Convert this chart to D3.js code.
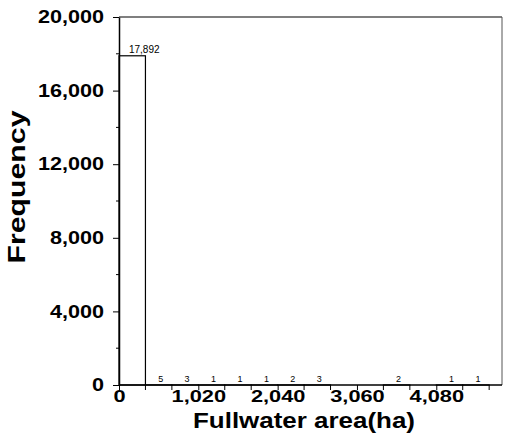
<!DOCTYPE html>
<html><head><meta charset="utf-8">
<script src="https://cdn.jsdelivr.net/npm/d3@7"></script>
<style>body{margin:0;background:#fff}svg{display:block}</style>
</head><body><svg id="c" width="505" height="448"></svg>
<script>
const binStarts = [0,340,680,1020,1360,1700,2040,2380,2720,3060,3400,3740,4080,4420];
const binWidth = 340;
const counts = [17892,5,3,1,1,1,2,3,0,0,2,0,1,1];
const xTicks = [0,1020,2040,3060,4080];
const yTicks = [0,4000,8000,12000,16000,20000];

const svg = d3.select("#c");
const x = d3.scaleLinear().domain([0,4925]).range([119,502]);
const y = d3.scaleLinear().domain([0,20000]).range([385,17]);
const fmt = d3.format(",");
const FF = "Arial, Liberation Sans, sans-serif";

function stretch(sel, k){
  sel.each(function(){
    const w = this.getComputedTextLength();
    d3.select(this).attr("textLength", w*k).attr("lengthAdjust","spacingAndGlyphs");
  });
}

// frame
svg.append("line").attr("x1",x(0)).attr("x2",x(4925)).attr("y1",y(20000)).attr("y2",y(20000)).attr("stroke","#000").attr("stroke-width",1.2);
svg.append("line").attr("x1",x(4925)).attr("x2",x(4925)).attr("y1",y(20000)).attr("y2",y(0)).attr("stroke","#555").attr("stroke-width",1);

// bars
const bins = binStarts.map((s,i)=>({x0:s,x1:s+binWidth,c:counts[i]}));
svg.append("g").selectAll("rect").data(bins.filter(d=>d.c>0)).join("rect")
  .attr("x",d=>x(d.x0)).attr("width",d=>x(d.x1)-x(d.x0))
  .attr("y",d=>y(d.c)).attr("height",d=>y(0)-y(d.c))
  .attr("fill","#fff").attr("stroke","#000").attr("stroke-width",1.2);

// value labels
svg.append("g").selectAll("text").data(bins.filter(d=>d.c>0)).join("text")
  .attr("x",(d,i)=>(x(d.x0)+x(d.x1))/2 + (i===0?12:2))
  .attr("y",d=>y(d.c)-3)
  .attr("text-anchor","middle")
  .attr("font-family",FF)
  .attr("font-size",(d,i)=>i===0?"10px":"9px")
  .text(d=>fmt(d.c));

// axes
const xAxis = svg.append("g").attr("transform",`translate(0,${y(0)})`)
  .call(d3.axisBottom(x).tickValues(xTicks).tickFormat(fmt).tickSize(5).tickSizeOuter(0));
xAxis.select(".domain").attr("stroke","#000").attr("stroke-width",1.5).attr("d",`M${x(0)},0H${x(4925)}`);
xAxis.selectAll("text").attr("font-family",FF).attr("font-weight","bold").attr("font-size","17px")
  .attr("y",17).attr("dy",0).attr("fill","#000").call(stretch,1.28);
const minorX = binStarts.concat([4760]).filter(v=>!xTicks.includes(v));
xAxis.selectAll(".mx").data(minorX).join("line").attr("class","mx")
  .attr("x1",d=>x(d)).attr("x2",d=>x(d)).attr("y1",0).attr("y2",5).attr("stroke","#000");

const yAxis = svg.append("g").attr("transform",`translate(${x(0)},0)`)
  .call(d3.axisLeft(y).tickValues(yTicks).tickFormat(fmt).tickSize(6).tickSizeOuter(0));
yAxis.select(".domain").attr("stroke","#000").attr("stroke-width",1.5);
yAxis.selectAll("text").attr("font-family",FF).attr("font-weight","bold").attr("font-size","18px")
  .attr("dx","-6").attr("fill","#000").call(stretch,1.2);
const minorY = d3.range(2000,20000,4000);
yAxis.selectAll(".my").data(minorY).join("line").attr("class","my")
  .attr("x1",-3).attr("x2",0).attr("y1",d=>y(d)).attr("y2",d=>y(d)).attr("stroke","#000");

// titles
svg.append("text").attr("x",304).attr("y",428).attr("text-anchor","middle")
  .attr("font-family",FF).attr("font-weight","bold").attr("font-size","22px")
  .attr("textLength",222).attr("lengthAdjust","spacingAndGlyphs").text("Fullwater area(ha)");
svg.append("text").attr("transform","translate(25,187) rotate(-90)").attr("text-anchor","middle")
  .attr("font-family",FF).attr("font-weight","bold").attr("font-size","24px")
  .attr("textLength",153).attr("lengthAdjust","spacingAndGlyphs").text("Frequency");
</script></body></html>
